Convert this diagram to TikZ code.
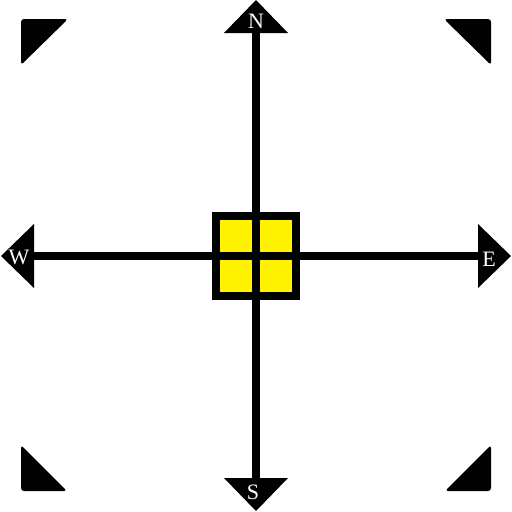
\documentclass[tikz,border=0pt]{standalone}
\usepackage{fontspec}
\setmainfont{Liberation Serif}
\begin{document}
\begin{tikzpicture}[x=1pt,y=-1pt,
  axis/.style={line width=8pt},
  tip/.style={fill=black},
  corner/.style={fill=black,rounded corners=3pt},
  lbl/.style={text=white,font=\fontsize{22}{22}\selectfont,inner sep=0pt,anchor=center}]
\useasboundingbox (0,0) rectangle (512,512);
\coordinate (n) at (256,33);
\coordinate (s) at (256,479);
\coordinate (w) at (33,256);
\coordinate (e) at (479,256);
\draw[axis] (n) -- (s);
\draw[axis] (w) -- (e);
% arrow tips
\fill[tip] (256,0) -- (288,33) -- (224,33) -- cycle;
\fill[tip] (256,511) -- (288,478) -- (224,478) -- cycle;
\fill[tip] (1,256) -- (34,224) -- (34,288) -- cycle;
\fill[tip] (511,256) -- (478,224) -- (478,288) -- cycle;
% corner triangles
\fill[corner] (21,19) -- (68,19) -- (21,65) -- cycle;
\fill[corner] (491,19) -- (444,19) -- (491,65) -- cycle;
\fill[corner] (21,491) -- (21,445) -- (67,491) -- cycle;
\fill[corner] (491,491) -- (491,445) -- (445,491) -- cycle;
% center box
\draw[line width=8pt,fill=yellow] (216,216) rectangle (296,296);
\draw[axis] (256,212) -- (256,300);
\draw[axis] (212,256) -- (300,256);
% labels
\node[lbl] (ln) at (256,21) {N};
\node[lbl] (ls) at (253,492) {S};
\node[lbl] (lw) at (19,257) {W};
\node[lbl] (le) at (489,259) {E};
\end{tikzpicture}
\end{document}
